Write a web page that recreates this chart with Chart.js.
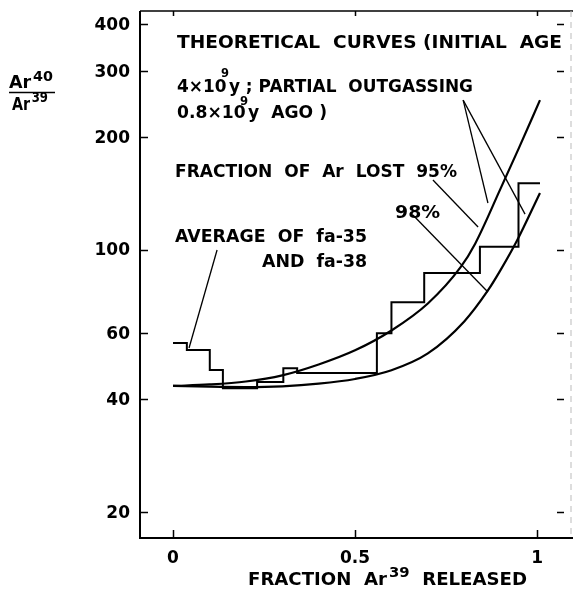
<!DOCTYPE html>
<html>
<head>
<title>Ar40/Ar39 release spectrum</title>
<script src="https://cdn.jsdelivr.net/npm/chart.js"></script>
<style>
body { margin: 0; background: #fff; }
#wrap { position: relative; width: 573px; height: 597px; }
</style>
</head>
<body>
<div id="wrap"><canvas id="myChart"></canvas></div>
<script>
// step spectrum, average of fa-35 and fa-38 (each value held until the next x)
var stepX = [0, 0.038, 0.101, 0.137, 0.231, 0.303, 0.341, 0.56, 0.60, 0.69, 0.843, 0.949, 1.008];
var stepY = [56.5, 54.1, 47.9, 42.8, 44.5, 48.4, 47.0, 60.0, 72.6, 86.8, 102, 150.7, 150.7];

// theoretical curves, fraction of Ar lost 95% and 98%
var x95 = [0, 0.1, 0.2, 0.3, 0.4, 0.5, 0.6, 0.7, 0.79, 0.83, 0.9, 0.95, 1.008];
var lost95 = [43.4, 43.8, 44.6, 46.3, 49.5, 54, 61, 72, 90, 104, 146, 187, 251];
var x98 = [0, 0.1, 0.2, 0.3, 0.4, 0.5, 0.6, 0.7, 0.8, 0.865, 0.9, 0.945, 1.008];
var lost98 = [43.4, 43.2, 43.1, 43.3, 44.0, 45.3, 47.8, 53, 64.5, 78, 88.5, 106, 142];

// axis ticks
var xTicks = [0, 0.5, 1];
var xTickLabels = ['0', '0.5', '1'];
var yTicks = [20, 40, 60, 100, 200, 300, 400];

// leader lines of the notes, [x1, y1, x2, y2] in data units
var leaders = [
    [0.797, 251, 0.865, 133.5],
    [0.797, 251, 0.967, 124.7],
    [0.714, 153.7, 0.838, 115.2],
    [0.659, 124, 0.865, 77.3],
    [0.121, 100, 0.044, 54.8]
];

// notes: anchor (left, baseline) in data units, width in px,
// text parts [text, rise, backstep, size factor] (rise > 0 = superscript)
var notes = [
    { x: 0.011, y: 345.7, w: 385, parts: [['THEORETICAL  CURVES (INITIAL  AGE']] },
    { x: 0.011, y: 263.8, w: 296, parts: [['4×10'], ['9', 15, 6], ['y ; PARTIAL  OUTGASSING']] },
    { x: 0.011, y: 224.9, w: 150, parts: [['0.8×10'], ['9', 13, 6], ['y  AGO )']] },
    { x: 0.0055, y: 156.5, w: 282, parts: [['FRACTION  OF  Ar  LOST  95%']] },
    { x: 0.61, y: 121.7, w: 45, parts: [['98%']] },
    { x: 0.0055, y: 105, w: 192, parts: [['AVERAGE  OF  fa-35']] },
    { x: 0.2445, y: 90.1, w: 105, parts: [['AND  fa-38']] }
];

function pts(xs, ys) {
    return xs.map(function (x, i) { return { x: x, y: ys[i] }; });
}

function font(size) {
    return 'bold ' + size + 'px "DejaVu Sans"';
}

function partSize(p, size) {
    return p[1] ? size * (p[3] || 0.68) : size;
}

// draws text parts squeezed or stretched to a given width
function drawParts(ctx, parts, x, y, width, size) {
    var total = 0;
    parts.forEach(function (p) {
        ctx.font = font(partSize(p, size));
        total += ctx.measureText(p[0]).width - (p[2] || 0);
    });
    var k = width / total;
    ctx.save();
    ctx.translate(x, y);
    ctx.scale(k, 1);
    ctx.textAlign = 'left';
    ctx.textBaseline = 'alphabetic';
    var cx = 0;
    parts.forEach(function (p) {
        ctx.font = font(partSize(p, size));
        var w = ctx.measureText(p[0]).width;
        var back = p[2] || 0;
        ctx.fillText(p[0], cx - back, -(p[1] || 0));
        cx += w - back;
    });
    ctx.restore();
}

var paperPlugin = {
    id: 'paper',
    afterDraw: function (chart) {
        var ctx = chart.ctx;
        var a = chart.chartArea;
        var xs = chart.scales.x, ys = chart.scales.y;
        ctx.save();
        ctx.strokeStyle = '#000';
        ctx.fillStyle = '#000';

        // frame
        ctx.lineWidth = 2;
        ctx.beginPath();
        ctx.moveTo(a.left, a.top);
        ctx.lineTo(a.left, a.bottom);
        ctx.lineTo(a.right + 9, a.bottom);
        ctx.stroke();
        ctx.lineWidth = 1.5;
        ctx.beginPath();
        ctx.moveTo(a.left, a.top);
        ctx.lineTo(a.right + 9, a.top);
        ctx.stroke();
        ctx.save();
        ctx.strokeStyle = '#bbb';
        ctx.lineWidth = 1;
        ctx.setLineDash([6, 5]);
        ctx.beginPath();
        ctx.moveTo(a.right + 7, a.top);
        ctx.lineTo(a.right + 7, a.bottom);
        ctx.stroke();
        ctx.restore();

        // inward ticks
        ctx.lineWidth = 1.5;
        yTicks.forEach(function (v) {
            var py = Math.round(ys.getPixelForValue(v)) + 0.5;
            ctx.beginPath();
            ctx.moveTo(a.left, py); ctx.lineTo(a.left + 8, py);
            ctx.moveTo(a.right, py); ctx.lineTo(a.right - 7, py);
            ctx.stroke();
        });
        xTicks.forEach(function (v) {
            var px = Math.round(xs.getPixelForValue(v)) + 0.5;
            ctx.beginPath();
            ctx.moveTo(px, a.bottom); ctx.lineTo(px, a.bottom - 8);
            ctx.moveTo(px, a.top); ctx.lineTo(px, a.top + 5);
            ctx.stroke();
        });

        // tick labels
        ctx.font = font(17);
        ctx.textAlign = 'right';
        ctx.textBaseline = 'middle';
        yTicks.forEach(function (v) {
            ctx.fillText(String(v), a.left - 10, ys.getPixelForValue(v) + 1);
        });
        ctx.textAlign = 'center';
        ctx.textBaseline = 'alphabetic';
        xTicks.forEach(function (v, i) {
            ctx.fillText(xTickLabels[i], xs.getPixelForValue(v), a.bottom + 25);
        });

        // axis titles
        drawParts(ctx, [['Ar'], ['40', 7, -2, 0.82]], 9, 88, 44, 18);
        ctx.lineWidth = 1.5;
        ctx.beginPath();
        ctx.moveTo(9, 92.5); ctx.lineTo(55, 92.5);
        ctx.stroke();
        drawParts(ctx, [['Ar'], ['39', 8, -2, 0.82]], 12, 110, 36, 18);
        drawParts(ctx, [['FRACTION  Ar'], ['39', 8, -2, 0.82], ['  RELEASED']], 248, a.bottom + 47, 279, 18);

        // notes
        notes.forEach(function (n) {
            drawParts(ctx, n.parts, xs.getPixelForValue(n.x), ys.getPixelForValue(n.y), n.w, 18);
        });
        ctx.restore();
    }
};

var datasets = [
    {
        label: 'Average of fa-35 and fa-38',
        data: pts(stepX, stepY),
        stepped: 'before',
        borderColor: '#000',
        borderWidth: 2,
        pointRadius: 0
    },
    {
        label: '95%',
        data: pts(x95, lost95),
        cubicInterpolationMode: 'monotone',
        borderColor: '#000',
        borderWidth: 2.2,
        pointRadius: 0
    },
    {
        label: '98%',
        data: pts(x98, lost98),
        cubicInterpolationMode: 'monotone',
        borderColor: '#000',
        borderWidth: 2.2,
        pointRadius: 0
    }
];
leaders.forEach(function (l, i) {
    datasets.push({
        label: 'leader ' + i,
        data: [{ x: l[0], y: l[1] }, { x: l[2], y: l[3] }],
        borderColor: '#000',
        borderWidth: 1.3,
        pointRadius: 0
    });
});

var ctx = document.getElementById('myChart').getContext('2d');
var myChart = new Chart(ctx, {
    type: 'line',
    data: { datasets: datasets },
    options: {
        responsive: true,
        maintainAspectRatio: false,
        animation: false,
        events: [],
        layout: { padding: { left: 140, right: 9, top: 11, bottom: 59 } },
        plugins: { legend: { display: false }, tooltip: { enabled: false } },
        scales: {
            x: { type: 'linear', min: -0.0907, max: 1.074, display: false },
            y: { type: 'logarithmic', min: 17.06, max: 434, display: false }
        }
    },
    plugins: [paperPlugin]
});
</script>
</body>
</html>
